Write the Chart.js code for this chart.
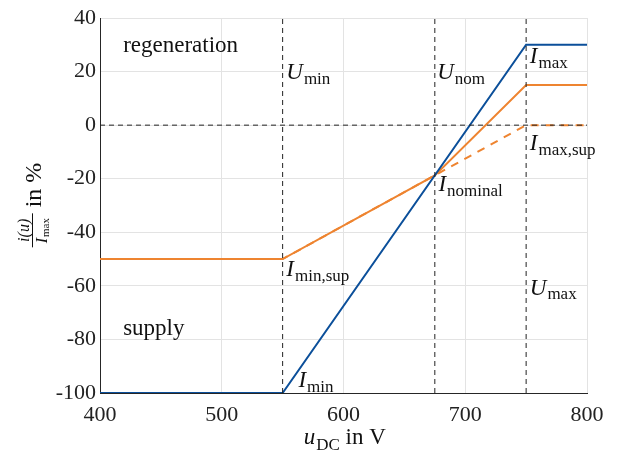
<!DOCTYPE html>
<html>
<head>
<meta charset="utf-8">
<script src="https://cdn.jsdelivr.net/npm/chart.js@4.4.0/dist/chart.umd.min.js"></script>
<style>
body{margin:0;background:#fff}
#wrap{width:618px;height:455px}
</style>
</head>
<body>
<div id="wrap"><canvas id="myChart" width="618" height="455"></canvas></div>
<script>
// voltage breakpoints (V) and current in % of I_max
const uLimits=[550,675,750]      // U_min, U_nom, U_max
const iMaxU=[400,550,750,800]
const iMax=[-100,-100,30,30]
const iSupU=[400,550,675,750,800]
const iSup=[-50,-50,-18.75,15,15]
const iSupDashU=[400,550,750,800]
const iSupDash=[-50,-50,0,0]
const xTicks=[400,500,600,700,800]
const yTicks=[-100,-80,-60,-40,-20,0,20,40]

// label texts: [x, y, main, sub, italic]
const labels=[
	[419,29.5,"regeneration","",false],
	[419,-76,"supply","",false],
	[553,19.5,"U","min",true],
	[677,19.5,"U","nom",true],
	[753,25.5,"I","max",true],
	[753,-7,"I","max,sup",true],
	[678,-22.5,"I","nominal",true],
	[553,-54,"I","min,sup",true],
	[753,-61,"U","max",true],
	[563,-95.5,"I","min",true]
]

const ctx=document.getElementById('myChart').getContext('2d')
const serif='"Liberation Serif", "DejaVu Serif", serif'
const blue='#0b4f9a'
const orange='#ee8430'

function pts(xs,ys){return xs.map((x,i)=>({x:x,y:ys[i]}))}

let guides=[]
uLimits.forEach(u=>{
	guides.push({data:pts([u,u],[-100,40]),borderColor:'#222',borderWidth:1,borderDash:[5,4],pointRadius:0,showLine:true})
})
guides.push({data:pts([400,800],[0,0]),borderColor:'#222',borderWidth:1,borderDash:[5,4],pointRadius:0,showLine:true})

function rich(c,x,y,main,sub,italic,size){
	c.font=(italic?'italic ':'')+size+'px '+serif
	c.fillText(main,x,y)
	let w=c.measureText(main).width
	if(sub){
		c.font=Math.round(size*0.72)+'px '+serif
		c.fillText(sub,x+w+1,y+size*0.28)
		w+=1+c.measureText(sub).width
	}
	return w
}

const textPlugin={
	id:'texts',
	afterDatasetsDraw(chart){
		const c=chart.ctx
		const xs=chart.scales.x, ys=chart.scales.y
		c.save()
		c.fillStyle='#111'
		c.textBaseline='middle'
		labels.forEach(l=>{
			rich(c,xs.getPixelForValue(l[0]),ys.getPixelForValue(l[1]),l[2],l[3],l[4],23)
		})
		// x axis title
		c.textBaseline='alphabetic'
		c.font='italic 23px '+serif
		let w1=c.measureText('u').width
		c.font='16px '+serif
		let w2=c.measureText('DC').width
		c.font='23px '+serif
		let w3=c.measureText(' in V').width
		let cx=(chart.chartArea.left+chart.chartArea.right)/2
		let x0=cx-(w1+w2+w3)/2
		let w=rich(c,x0,444,'u','DC',true,23)
		c.font='23px '+serif
		c.fillText(' in V',x0+w,444)
		// y axis title, rotated fraction
		c.translate(34,205)
		c.rotate(-Math.PI/2)
		c.font='24px '+serif
		let win=c.measureText(' in %').width
		let fw=34
		let left=-(fw+win)/2
		c.textBaseline='alphabetic'
		c.font='italic 16px '+serif
		let tw=c.measureText('i(u)').width
		c.fillText('i(u)',left+(fw-tw)/2,-5)
		c.fillRect(left,-2,fw,1)
		c.font='italic 16px '+serif
		let iw=c.measureText('I').width
		c.fillText('I',left+4,13)
		c.font='11px '+serif
		c.fillText('max',left+4+iw+1,15)
		c.font='24px '+serif
		c.fillText(' in %',left+fw,7)
		c.restore()
	}
}

const myChart=new Chart(ctx,{
	type:'scatter',
	data:{
		datasets:[
			...guides,
			{data:pts(iMaxU,iMax),borderColor:blue,borderWidth:2,pointRadius:0,showLine:true},
			{data:pts(iSupU,iSup),borderColor:orange,borderWidth:2,pointRadius:0,showLine:true},
			{data:pts(iSupDashU,iSupDash),borderColor:orange,borderWidth:2,borderDash:[8,7],pointRadius:0,showLine:true}
		]
	},
	options:{
		responsive:false,
		animation:false,
		layout:{padding:{top:18,right:31,left:0,bottom:0}},
		plugins:{legend:{display:false},tooltip:{enabled:false}},
		scales:{
			x:{
				type:'linear',min:400,max:800,
				afterBuildTicks:s=>{s.ticks=xTicks.map(v=>({value:v}))},
				afterFit:s=>{s.height=62},
				grid:{color:'#e3e3e3',drawTicks:false},
				border:{color:'#262626',width:1},
				ticks:{color:'#222',padding:9,font:{family:serif,size:22}}
			},
			y:{
				min:-100,max:40,
				afterBuildTicks:s=>{s.ticks=yTicks.map(v=>({value:v}))},
				afterFit:s=>{s.width=100},
				grid:{color:'#e3e3e3',drawTicks:false},
				border:{color:'#262626',width:1},
				ticks:{color:'#222',padding:4,font:{family:serif,size:22}}
			}
		}
	},
	plugins:[textPlugin]
})
</script>
</body>
</html>
